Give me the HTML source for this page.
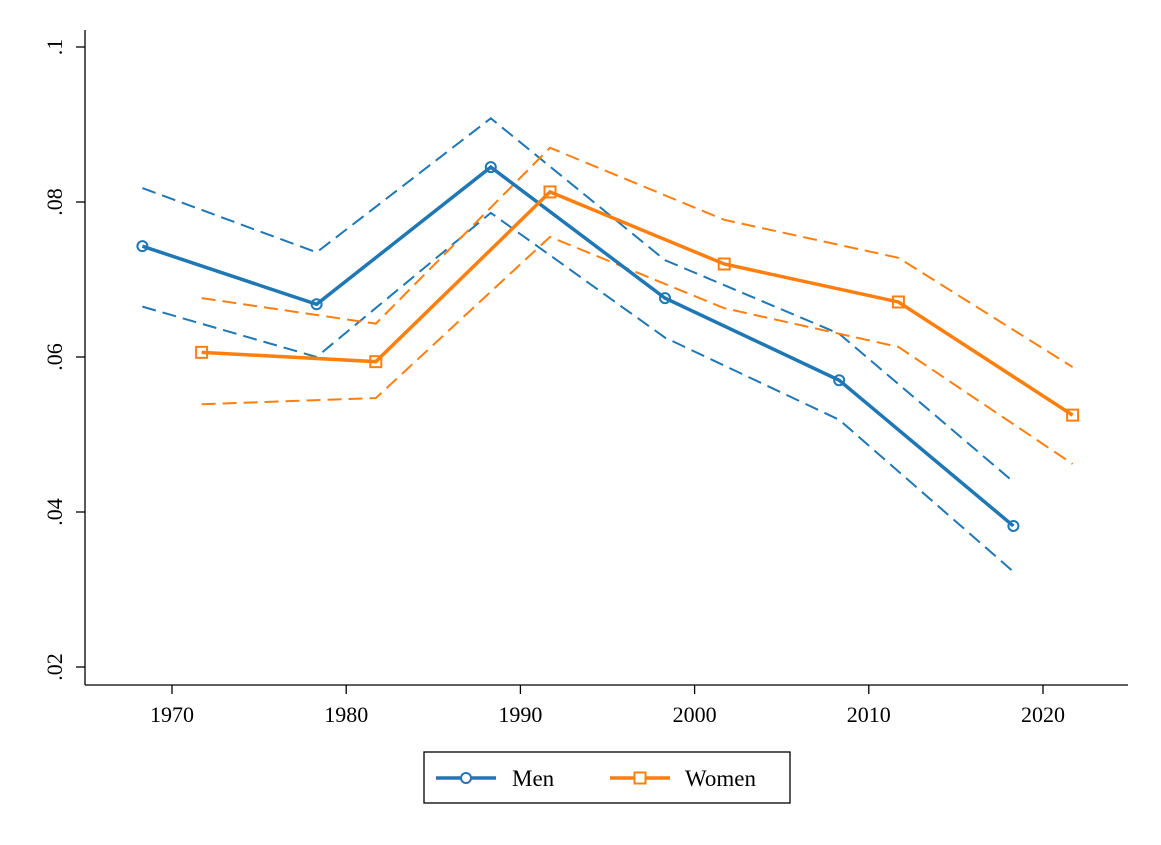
<!DOCTYPE html>
<html><head><meta charset="utf-8"><style>
body{margin:0;background:#fff;}
svg{display:block;font-family:"Liberation Serif",serif;}
</style></head><body>
<svg id="chart" width="1161" height="845" viewBox="0 0 1161 845"></svg>
<script>
const yTicks=[0.02,0.04,0.06,0.08,0.1];
const yTickLabels=[".02",".04",".06",".08",".1"];
const xTicks=[1970,1980,1990,2000,2010,2020];
const menYears=[1968.3,1978.3,1988.3,1998.3,2008.3,2018.3];
const menVals=[0.0743,0.0668,0.0845,0.0676,0.0570,0.0382];
const menUpper=[0.0818,0.0735,0.0908,0.0725,0.0630,0.0439];
const menLower=[0.0665,0.0600,0.0786,0.0625,0.0519,0.0323];
const womenYears=[1971.7,1981.7,1991.7,2001.7,2011.7,2021.7];
const womenVals=[0.0606,0.0594,0.0813,0.0720,0.0671,0.0525];
const womenUpper=[0.0676,0.0643,0.0870,0.0777,0.0728,0.0587];
const womenLower=[0.0539,0.0547,0.0755,0.0663,0.0613,0.0462];

const NS="http://www.w3.org/2000/svg";
const svg=document.getElementById('chart');
const X=y=>172+(y-1970)*17.42;
const Y=v=>667-(v-0.02)*7750;
function mk(t,a,p){const e=document.createElementNS(NS,t);for(const k in a)e.setAttribute(k,a[k]);(p||svg).appendChild(e);return e;}

let ax=mk('line',{x1:85,y1:30,x2:85,y2:685,stroke:'#000','stroke-width':1.3});


let bx=mk('line',{x1:85,y1:685,x2:1128,y2:685,stroke:'#000','stroke-width':1.3});



yTicks.forEach((v,i)=>{
  const y=Y(v);
  let t=mk('line',{x1:76,y1:y,x2:85,y2:y,stroke:'#000','stroke-width':1.3});
  
  
  let l=mk('text',{x:0,y:0,'font-size':22,'text-anchor':'middle',transform:`translate(62,${y}) rotate(-90)`});
  l.textContent=yTickLabels[i];
  
  
});
xTicks.forEach(v=>{
  const x=X(v);
  let t=mk('line',{x1:x,y1:685,x2:x,y2:694,stroke:'#000','stroke-width':1.3});
  
  
  let l=mk('text',{x:x,y:722,'font-size':22,'text-anchor':'middle'});
  l.textContent=v;
  
  
});

function line(xs,vs,color,w,dash,name){
  const pts=xs.map((x,i)=>X(x)+','+Y(vs[i])).join(' ');
  const a={points:pts,fill:'none',stroke:color,'stroke-width':w};
  if(dash)a['stroke-dasharray']=dash;
  let p=mk('polyline',a);
  
  
}
const blue='#1f77b4',orange='#ff7f0e';
line(menYears,menUpper,blue,2,'14 7','men-upper-ci');
line(menYears,menLower,blue,2,'14 7','men-lower-ci');
line(womenYears,womenUpper,orange,2,'14 7','women-upper-ci');
line(womenYears,womenLower,orange,2,'14 7','women-lower-ci');
line(menYears,menVals,blue,3.5,null,'men-line');
line(womenYears,womenVals,orange,3.5,null,'women-line');
menYears.forEach((x,i)=>{
  let c=mk('circle',{cx:X(x),cy:Y(menVals[i]),r:5,fill:'none',stroke:blue,'stroke-width':2});
  
  
});
womenYears.forEach((x,i)=>{
  let r=mk('rect',{x:X(x)-5.5,y:Y(womenVals[i])-5.5,width:11,height:11,fill:'none',stroke:orange,'stroke-width':2});
  
  
});

const lg=mk('g',{});


mk('rect',{x:424,y:752,width:366,height:51,fill:'#fff',stroke:'#000','stroke-width':1.3},lg);
mk('line',{x1:436,y1:778,x2:496,y2:778,stroke:blue,'stroke-width':3.5},lg);
mk('circle',{cx:466,cy:778,r:5,fill:'#fff',stroke:blue,'stroke-width':2},lg);
let t1=mk('text',{x:512,y:786,'font-size':23},lg);t1.textContent='Men';


mk('line',{x1:610,y1:778,x2:670,y2:778,stroke:orange,'stroke-width':3.5},lg);
mk('rect',{x:634.5,y:772.5,width:11,height:11,fill:'#fff',stroke:orange,'stroke-width':2},lg);
let t2=mk('text',{x:685,y:786,'font-size':23},lg);t2.textContent='Women';


</script>
</body></html>
